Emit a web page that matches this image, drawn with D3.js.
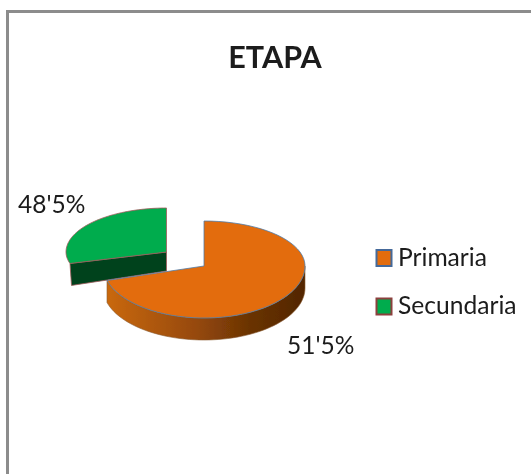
<!DOCTYPE html>
<html><head><meta charset="utf-8">
<script src="https://cdn.jsdelivr.net/npm/d3@7"></script>
<style>html,body{margin:0;padding:0;background:#fff}svg{display:block}text{font-family:Lato,"Open Sans",sans-serif;fill:#1a1a1a}</style>
</head><body><script>
const categories=["Primaria","Secundaria"];
const sliceValues=[70.5,29.5];
const sliceLabels=["51'5%","48'5%"];
const topColors=["#e36c09","#00ac4e"];
const edgeColors=["#4f7cac","#a05a5a"];
const legendEdges=["#44699a","#8c3f3c"];

const W=531,H=474;
const svg=d3.select("body").append("svg").attr("width",W).attr("height",H);
const defs=svg.append("defs");
defs.append("filter").attr("id","soft").append("feGaussianBlur").attr("stdDeviation",0.55);
const g=defs.append("linearGradient").attr("id","wall").attr("x1",0).attr("x2",1).attr("y1",0).attr("y2",0);
[[0,"#c9680e"],[0.45,"#96490a"],[0.72,"#6a3304"],[1,"#522600"]].forEach(s=>g.append("stop").attr("offset",s[0]).attr("stop-color",s[1]));

const root=svg.append("g").attr("filter","url(#soft)");
root.append("path").attr("d",`M7.5 ${H+5} V11.5 H${W+5}`).attr("fill","none").attr("stroke","#8c8c8c").attr("stroke-width",3);
root.append("text").attr("x",275).attr("y",68).attr("text-anchor","middle").attr("font-size",30.5).attr("font-weight",700).text("ETAPA");

const pie=d3.pie().sort(null)(sliceValues);
const geom=[
 {x:d3.scaleLinear().domain([-1,0,1]).range([103,204,305]),y:d3.scaleLinear().domain([-1,0,1]).range([221,266,318]),depth:22,innerDepth:22},
 {x:d3.scaleLinear().domain([-1,0,1]).range([66,166.5,265]),y:d3.scaleLinear().domain([-1,0,1]).range([208,252,293]),depth:22,innerDepth:19}
];
const pt=(G,a,dy=0)=>[G.x(Math.sin(a)),G.y(-Math.cos(a))+dy];
const arcPts=(G,a0,a1,dy=0)=>d3.range(0,61).map(i=>pt(G,a0+(a1-a0)*i/60,dy));
const line=d3.line();

{
 const G=geom[0],a0=Math.PI/2,a1=pie[0].endAngle;
 const pts=arcPts(G,a0,a1).concat(arcPts(G,a1,a0,G.depth));
 root.append("path").attr("d",line(pts)+"Z").attr("fill","url(#wall)").attr("stroke","#8a5a30").attr("stroke-width",0.6);
}
{
 const G=geom[1],a=pie[1].startAngle;
 const c=[G.x(0),G.y(0)],p=pt(G,a);
 const pts=[c,p,[p[0]+1.5,p[1]+G.depth],[c[0],c[1]+G.innerDepth]];
 root.append("path").attr("d",line(pts)+"Z").attr("fill","#00431f").attr("stroke",edgeColors[1]).attr("stroke-width",0.8);
}
pie.forEach((d,i)=>{
 const G=geom[i];
 const pts=[[G.x(0),G.y(0)]].concat(arcPts(G,d.startAngle,d.endAngle));
 root.append("path").attr("d",line(pts)+"Z").attr("fill",topColors[i]).attr("stroke",edgeColors[i]).attr("stroke-width",0.8);
});

[[287,354],[18,213]].forEach((p,i)=>{
 root.append("text").attr("x",p[0]).attr("y",p[1]).attr("font-size",24.5).text(sliceLabels[i]);
});

const legendY=d3.scalePoint().domain(categories).range([258,306.5]);
categories.forEach((c,i)=>{
 const y=legendY(c);
 root.append("rect").attr("x",376.5).attr("y",y-8).attr("width",15).attr("height",16).attr("fill",topColors[i]).attr("stroke",legendEdges[i]).attr("stroke-width",2);
 root.append("text").attr("x",398).attr("y",y+7.5).attr("font-size",24.6).text(c);
});
</script></body></html>
